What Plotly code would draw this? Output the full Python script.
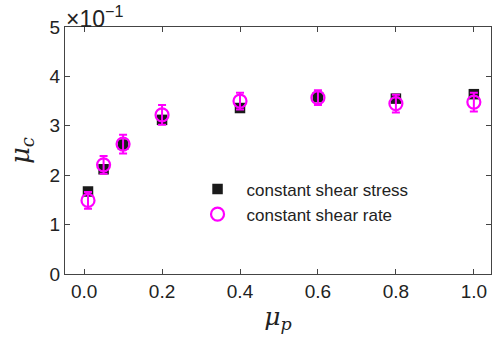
import plotly.graph_objects as go

mu_p = [0.01, 0.05, 0.1, 0.2, 0.4, 0.6, 0.8, 1.0]
mu_c_stress = [1.67, 2.12, 2.62, 3.12, 3.36, 3.58, 3.55, 3.64]  # x 10^-1
mu_c_rate = [1.49, 2.21, 2.63, 3.22, 3.50, 3.57, 3.45, 3.48]    # x 10^-1
mu_c_rate_err = [0.17, 0.18, 0.19, 0.20, 0.17, 0.15, 0.18, 0.19]
y_ticks = [0, 1, 2, 3, 4, 5]
x_ticks = [0.0, 0.2, 0.4, 0.6, 0.8, 1.0]
x_ticklabels = ["0.0", "0.2", "0.4", "0.6", "0.8", "1.0"]

FONT = "Liberation Sans, Arial, Helvetica, sans-serif"
MAG = "#ff00ff"

fig = go.Figure()
fig.add_trace(go.Scatter(
    x=mu_p, y=mu_c_stress, mode="markers", name="constant shear stress",
    marker=dict(symbol="square", size=10.5, color="#1a1a1a"),
))
fig.add_trace(go.Scatter(
    x=mu_p, y=mu_c_rate, mode="markers", name="constant shear rate",
    marker=dict(symbol="circle-open", size=13, color=MAG, line=dict(width=2.2, color=MAG)),
    error_y=dict(type="data", array=mu_c_rate_err, color=MAG, thickness=2, width=4),
))

axis_common = dict(
    showline=True, linecolor="#444", linewidth=1.2, mirror="ticks",
    ticks="inside", ticklen=5, tickcolor="#444", tickwidth=1,
    showgrid=False, zeroline=False, automargin=False,
    tickfont=dict(family=FONT, size=19, color="#222"),
)

fig.update_layout(
    width=499, height=343,
    margin=dict(l=65, r=8, t=27, b=69, autoexpand=False),
    paper_bgcolor="white", plot_bgcolor="white",
    showlegend=True,
    legend=dict(
        x=0.29, y=0.415, xanchor="left", yanchor="top",
        bgcolor="rgba(0,0,0,0)", font=dict(family=FONT, size=17, color="#222"),
        itemwidth=48, tracegroupgap=0,
    ),
    xaxis=dict(range=[-0.049, 1.044], tickvals=x_ticks, ticktext=x_ticklabels,
               title=dict(text="<i>μ<sub>p</sub></i>", font=dict(family="DejaVu Serif, serif", size=25, color="#222"), standoff=6),
               **axis_common),
    yaxis=dict(range=[0, 5], tickvals=y_ticks,
               title=dict(text="<i>μ<sub>c</sub></i>", font=dict(family="DejaVu Serif, serif", size=26, color="#222"), standoff=12),
               **axis_common),
)

fig.add_annotation(
    x=0, y=1, xref="paper", yref="paper", xanchor="left", yanchor="bottom",
    text="×10<sup>−1</sup>", showarrow=False,
    font=dict(family=FONT, size=23, color="#222"), xshift=-1, yshift=-7,
)

fig.write_html(
    "out.html",
    config={"displayModeBar": False},
    post_script="document.body.style.margin='0';document.body.style.padding='0';document.body.style.overflow='hidden';",
)
